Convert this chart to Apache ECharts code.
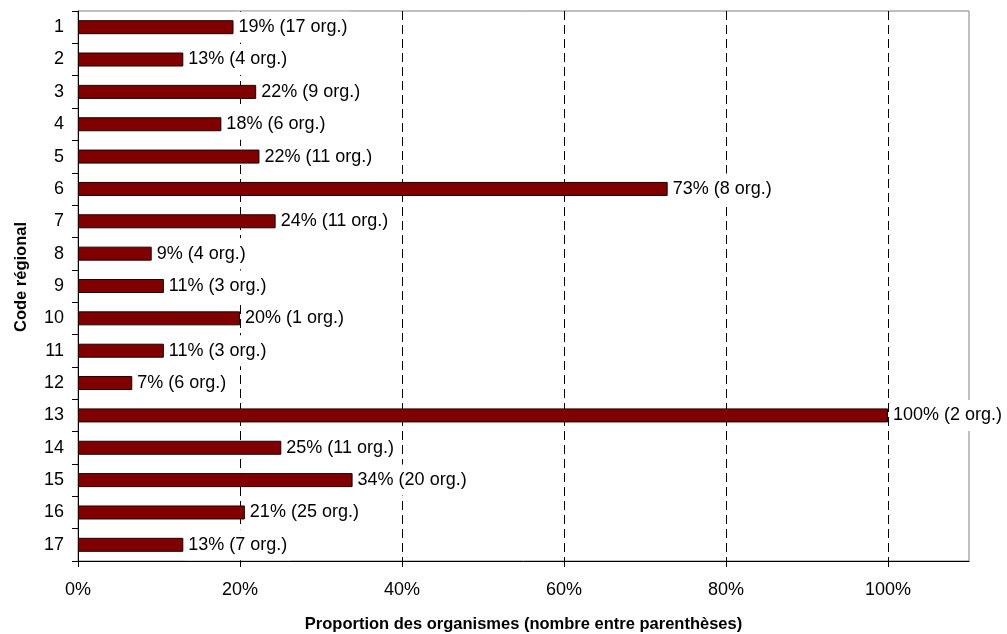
<!DOCTYPE html>
<html>
<head>
<meta charset="utf-8">
<script src="https://cdn.jsdelivr.net/npm/echarts@6/dist/echarts.min.js"></script>
<style>
html,body{margin:0;padding:0;background:#fff;}
#chart{width:1007px;height:634px;}
</style>
</head>
<body>
<div id="chart"></div>
<script>
const categories = ['1','2','3','4','5','6','7','8','9','10','11','12','13','14','15','16','17'];
const proportions = [19.2, 13.0, 22.0, 17.7, 22.4, 72.8, 24.4, 9.1, 10.6, 20.0, 10.6, 6.7, 100, 25.1, 33.9, 20.6, 13.0];
const orgCounts = [17, 4, 9, 6, 11, 8, 11, 4, 3, 1, 3, 6, 2, 11, 20, 25, 7];
const xTicks = [0, 20, 40, 60, 80, 100];

const FONT = '"Liberation Sans", Arial, sans-serif';
const chart = echarts.init(document.getElementById('chart'), null, {renderer: 'canvas'});
chart.setOption({
  animation: false,
  backgroundColor: '#fff',
  grid: {left: 78, top: 11, right: 38, bottom: 73, outerBoundsMode: 'none', containLabel: false,
    show: true, borderColor: '#808080', borderWidth: 1, backgroundColor: 'transparent'},
  xAxis: {
    type: 'value', min: 0, max: 110, interval: 20,
    name: 'Proportion des organismes (nombre entre parenthèses)',
    nameLocation: 'middle', nameGap: 55,
    nameTextStyle: {fontFamily: FONT, fontSize: 16.5, fontWeight: 'bold', color: '#000'},
    axisLine: {show: true, onZero: false, lineStyle: {color: '#000', width: 1}},
    axisTick: {show: true, length: 6, customValues: xTicks, lineStyle: {color: '#000'}},
    axisLabel: {fontFamily: FONT, fontSize: 18, color: '#000', margin: 20, customValues: xTicks,
      formatter: v => v + '%'},
    splitLine: {show: true, showMinLine: false, showMaxLine: true, lineStyle: {color: '#000', type: [9, 5], width: 1}}
  },
  yAxis: {
    type: 'category', data: categories, inverse: true,
    name: 'Code régional', nameLocation: 'middle', nameGap: 48, nameRotate: 90,
    nameTextStyle: {fontFamily: FONT, fontSize: 16.5, fontWeight: 'bold', color: '#000', padding: [0, 0, 0, 18]},
    axisLine: {show: true, lineStyle: {color: '#000', width: 1}},
    axisTick: {show: true, length: 6, lineStyle: {color: '#000'}},
    axisLabel: {fontFamily: FONT, fontSize: 18, color: '#000', margin: 14},
    splitLine: {show: false}
  },
  series: [{
    type: 'bar',
    data: proportions,
    barWidth: 14,
    itemStyle: {color: '#800000', borderColor: '#1a0000', borderWidth: 1},
    label: {
      show: true, position: 'right', distance: 2,
      fontFamily: FONT, fontSize: 18, color: '#000',
      backgroundColor: '#fff', padding: [5, 3], lineHeight: 21,
      formatter: p => Math.round(p.value) + '% (' + orgCounts[p.dataIndex] + ' org.)'
    }
  }]
});
</script>
</body>
</html>
